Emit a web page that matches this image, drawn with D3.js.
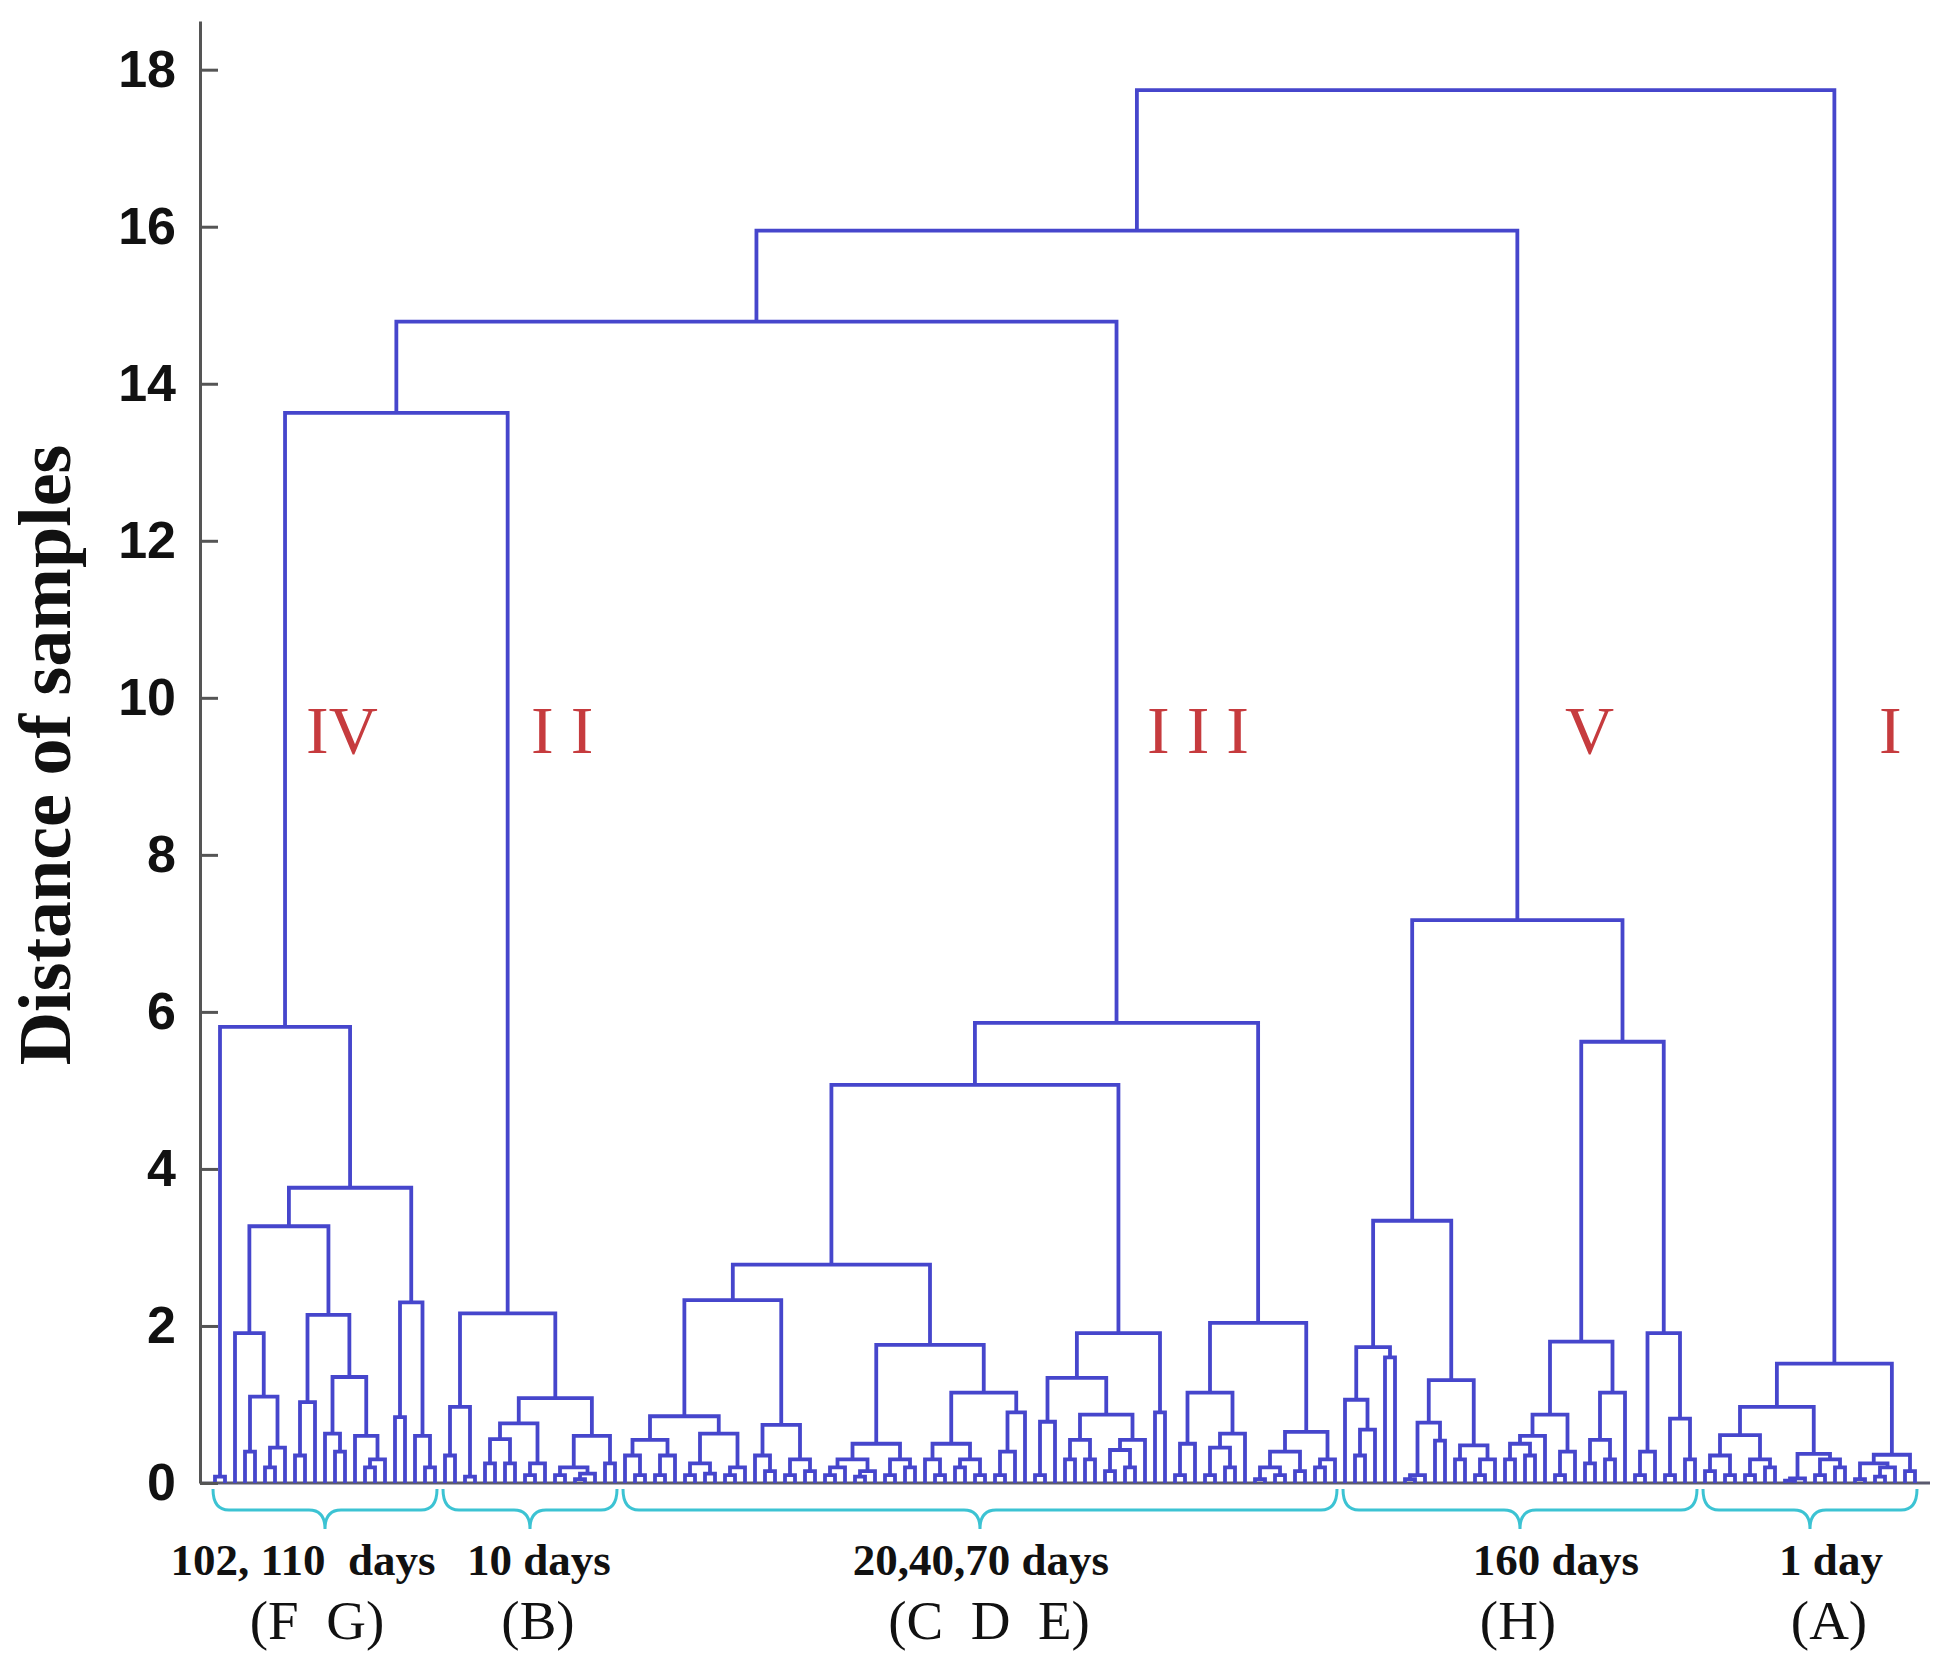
<!DOCTYPE html>
<html><head><meta charset="utf-8">
<script src="https://cdn.jsdelivr.net/npm/d3@7"></script>
<style>html,body{margin:0;padding:0;background:#fff;} svg{display:block;}</style>
</head><body>
<svg id="chart" width="1944" height="1672"></svg>
<script>
// ---------------- DATA ----------------
// Axis ticks (distance of samples)
const yTicks = [0, 2, 4, 6, 8, 10, 12, 14, 16, 18];

// Sub-trees written Newick-like: o = one sample, (a,b)h = merge of a and b at distance h
const clusterIV = "((o,o)0.08,(((o,((o,o)0.4,((o,o)0.2,o)0.45)1.1)1.91,(((o,o)0.35,o)1.03,((o,(o,o)0.4)0.63,(o,((o,o)0.2,o)0.3)0.6)1.35)2.14)3.27,((o,o)0.84,(o,(o,o)0.2)0.6)2.3)3.76)5.81";
const clusterII = "(((o,o)0.35,(o,o)0.08)0.97,((((o,o)0.25,(o,o)0.25)0.56,((o,o)0.1,o)0.25)0.76,(((o,o)0.1,((o,o)0.05,o)0.12)0.2,(o,o)0.25)0.6)1.08)2.16";
const clusterIIIGroups = [
  "(o,(o,o)0.1)0.35", "((o,o)0.1,o)0.35", "((o,o)0.1,(o,o)0.12)0.25", "((o,o)0.1,o)0.2",
  "(o,(o,o)0.15)0.35", "((o,o)0.1,(o,o)0.15)0.3", "(((o,o)0.1,o)0.2,((o,o)0.08,o)0.15)0.3",
  "((o,o)0.1,(o,o)0.2)0.3", "(o,(o,o)0.1)0.3", "((o,o)0.2,(o,o)0.1)0.3", "((o,o)0.1,o)0.4", "o",
  "((o,o)0.1,o)0.78", "((o,o)0.3,(o,o)0.3)0.55", "(((o,o)0.15,(o,o)0.2)0.42,o)0.55", "(o,o)0.9",
  "((o,o)0.1,o)0.5", "(((o,o)0.1,(o,o)0.2)0.45,o)0.63", "(((o,o)0.05,(o,o)0.1)0.2,(o,o)0.15)0.4", "((o,o)0.2,o)0.3"
];
const g = clusterIIIGroups;
const clusterIII = `((((((${g[0]},${g[1]})0.55,(${g[2]},${g[3]})0.63)0.85,(${g[4]},${g[5]})0.74)2.33,((${g[6]},${g[7]})0.5,((${g[8]},${g[9]})0.5,(${g[10]},${g[11]})0.9)1.15)1.76)2.78,((${g[12]},(${g[13]},${g[14]})0.87)1.34,${g[15]})1.91)5.07,((${g[16]},${g[17]})1.15,(${g[18]},${g[19]})0.65)2.04)5.86`;
const clusterV = "((((o,((o,o)0.35,o)0.68)1.06,(o,o)1.6)1.73,((((o,o)0.05,o)0.1,(o,o)0.54)0.77,((o,o)0.3,((o,o)0.1,o)0.3)0.48)1.31)3.34,((((((o,o)0.3,(o,o)0.35)0.5,o)0.6,((o,o)0.1,o)0.4)0.87,(((o,o)0.25,(o,o)0.3)0.55,o)1.15)1.8,(((o,o)0.1,o)0.4,((o,o)0.1,(o,o)0.3)0.82)1.91)5.62)7.17";
const clusterI = "(((((o,o)0.15,(o,o)0.1)0.35,((o,o)0.1,(o,o)0.2)0.3)0.61,(((o,o)0.03,o)0.06,((o,o)0.1,(o,o)0.2)0.3)0.37)0.97,(((o,o)0.05,((o,o)0.08,o)0.2)0.25,(o,o)0.15)0.36)1.52";

// Upper merges: (IV+II), +III, +V, +I
const topMerges = [13.63, 14.79, 15.95, 17.74];

// Cluster annotations (left to right)
const clusterNames = ["IV", "II", "III", "V", "I"];
const clusterNamePos = [9.1, 31.6, 93.2, 135.0, 166.4];          // in sample-index units (left edge)
const groupDays = ["102, 110  days", "10 days", "20,40,70 days", "160 days", "1 day"];
const groupDaysPos = [8.8, 32.4, 76.6, 134.1, 161.6];
const groupCodes = ["(F  G)", "(B)", "(C  D  E)", "(H)", "(A)"];
const groupCodesPos = [10.2, 32.3, 77.4, 130.3, 161.4];

// ---------------- BUILD ----------------
function parseTree(str) {
  const s = str.replace(/\s+/g, "");
  let i = 0;
  function node() {
    if (s[i] === "(") {
      i++;
      const ch = [node()];
      while (s[i] === ",") { i++; ch.push(node()); }
      i++; // ')'
      const j = i;
      while (i < s.length && /[0-9.]/.test(s[i])) i++;
      return { h: +s.slice(j, i), children: ch };
    }
    i++;
    return { h: 0 };
  }
  return node();
}

const clusterTrees = [clusterIV, clusterII, clusterIII, clusterV, clusterI].map(parseTree);
// order in which clusters join: IV+II, then III, then V, then I
let topTree = { h: topMerges[0], children: [clusterTrees[0], clusterTrees[1]] };
topTree = { h: topMerges[1], children: [topTree, clusterTrees[2]] };
topTree = { h: topMerges[2], children: [topTree, clusterTrees[3]] };
topTree = { h: topMerges[3], children: [topTree, clusterTrees[4]] };

const root = d3.hierarchy(topTree);
const leaves = root.leaves();
leaves.forEach((l, i) => l.idx = i);
root.eachAfter(n => {
  if (n.children) n.idx = (n.children[0].idx + n.children[n.children.length - 1].idx) / 2;
});

// ---------------- DRAW ----------------
const W = 1944, H = 1672;
const svg = d3.select("#chart");
svg.append("rect").attr("width", W).attr("height", H).attr("fill", "#fff");

const x = d3.scaleLinear().domain([0, leaves.length - 1]).range([215, 1915]);
const y = d3.scaleLinear().domain([0, 18.62]).range([1483, 21]);
const axisX = 200;

// baseline
svg.append("line")
  .attr("x1", axisX).attr("x2", 1930)
  .attr("y1", y(0)).attr("y2", y(0))
  .attr("stroke", "#5a5a6e").attr("stroke-width", 3);

// dendrogram links
const lineColor = "#4646cc";
svg.append("g")
  .selectAll("path")
  .data(root.descendants().filter(d => d.children))
  .join("path")
  .attr("d", d => {
    const a = d.children[0], b = d.children[d.children.length - 1];
    return `M${x(a.idx)},${y(a.data.h)}V${y(d.data.h)}H${x(b.idx)}V${y(b.data.h)}`;
  })
  .attr("fill", "none")
  .attr("stroke", lineColor)
  .attr("stroke-width", 3.8)
  .attr("stroke-linejoin", "miter");

// y axis
const axis = d3.axisLeft(y).tickValues(yTicks).tickSizeInner(-18).tickSizeOuter(0).tickPadding(24)
  .tickFormat(d3.format("d"));
const ag = svg.append("g").attr("transform", `translate(${axisX},0)`).call(axis);
ag.select(".domain").attr("stroke", "#555").attr("stroke-width", 3);
ag.selectAll(".tick line").attr("stroke", "#555").attr("stroke-width", 3);
ag.selectAll(".tick text")
  .attr("fill", "#111")
  .style("font-family", "'Liberation Sans', Arial, sans-serif")
  .style("font-weight", "bold")
  .style("font-size", "52px");

// y axis title
svg.append("text")
  .attr("transform", "translate(70,755) rotate(-90)")
  .attr("text-anchor", "middle")
  .style("font-family", "'Liberation Serif', 'Times New Roman', serif")
  .style("font-weight", "bold")
  .style("font-size", "74px")
  .attr("fill", "#111")
  .text("Distance of samples");

// cluster roman numerals
svg.append("g").selectAll("text")
  .data(clusterNames)
  .join("text")
  .attr("x", (d, i) => x(clusterNamePos[i]))
  .attr("y", y(9.3))
  .style("font-family", "'Liberation Serif', 'Times New Roman', serif")
  .style("font-size", "68px")
  .style("letter-spacing", d => /^I+$/.test(d) && d.length > 1 ? "17px" : "0px")
  .attr("fill", "#c63b3e")
  .text(d => d);

// braces under each cluster
const clusterNodes = clusterTrees.map(t => root.descendants().find(n => n.data === t));
const braceColor = "#3cc3d3";
const yb0 = 1489, yb1 = 1510, yb2 = 1529;
svg.append("g").selectAll("path")
  .data(clusterNodes)
  .join("path")
  .attr("d", n => {
    const lv = n.leaves();
    const x1 = x(lv[0].idx - 0.5) + 3, x2 = x(lv[lv.length - 1].idx + 0.5) - 3;
    const xm = (x1 + x2) / 2, r = 16;
    return `M${x1},${yb0}Q${x1},${yb1} ${x1 + r},${yb1}H${xm - r}Q${xm},${yb1} ${xm},${yb2}` +
           `Q${xm},${yb1} ${xm + r},${yb1}H${x2 - r}Q${x2},${yb1} ${x2},${yb0}`;
  })
  .attr("fill", "none")
  .attr("stroke", braceColor)
  .attr("stroke-width", 3);

// group labels
svg.append("g").selectAll("text")
  .data(groupDays)
  .join("text")
  .attr("x", (d, i) => x(groupDaysPos[i]))
  .attr("y", 1575)
  .attr("text-anchor", "middle")
  .style("font-family", "'Liberation Serif', 'Times New Roman', serif")
  .style("font-weight", "bold")
  .style("font-size", "45px")
  .style("white-space", "pre")
  .attr("fill", "#111")
  .text(d => d);

svg.append("g").selectAll("text")
  .data(groupCodes)
  .join("text")
  .attr("x", (d, i) => x(groupCodesPos[i]))
  .attr("y", 1639)
  .attr("text-anchor", "middle")
  .style("font-family", "'Liberation Serif', 'Times New Roman', serif")
  .style("font-size", "55px")
  .style("white-space", "pre")
  .attr("fill", "#111")
  .text(d => d);
</script>
</body></html>
